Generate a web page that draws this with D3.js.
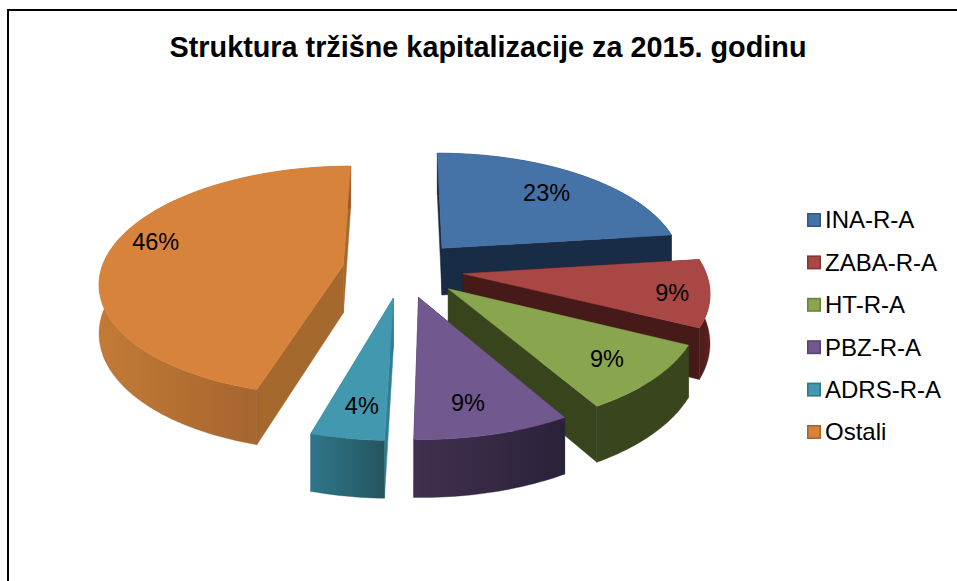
<!DOCTYPE html>
<html>
<head>
<meta charset="utf-8">
<style>
  body { margin: 0; background: #fff; }
  svg { display: block; font-family: "Liberation Sans", Arial, sans-serif; }
</style>
</head>
<body>
<svg class="chart" width="957" height="581"></svg>

<script src="https://d3js.org/d3.v7.min.js"></script>
<script>
  const title = "Struktura tržišne kapitalizacije za 2015. godinu";
  const categories = ["INA-R-A", "ZABA-R-A", "HT-R-A", "PBZ-R-A", "ADRS-R-A", "Ostali"];
  const shares = [23, 9.3, 9.3, 8.8, 4.1, 45.5];

  const topColors = ["#4572a7", "#a94745", "#89a54e", "#71588f", "#4198af", "#d8833c"];
  const wallLeft = ["#1a2f4a", "#4a1b19", "#39451c", "#413050", "#2f7689", "#c27a36"];
  const wallRight = ["#182c45", "#5e211e", "#39451c", "#2a2239", "#24555f", "#95592a"];
  const faceColors = ["#182c45", "#451a18", "#38441c", "#2d2440", "#2f7f93", "#a5692e"];

  // label spot per slice: fraction of radius, shift from the mid angle in degrees
  const labelSpots = [[0.74, 0], [0.85, 1], [0.79, 0], [0.785, 2], [0.79, -1], [0.84, 7]];

  // perspective ground plane, fitted to the corners in the picture
  const cx = 403, horizon = -550, planeDrop = 819, camera = 1730;
  const radius = 240, widen = 1.008, explode = 60, depth = 48;

  const svg = d3.select("svg.chart");
  const defs = svg.append("defs");

  function project(u, v, h) {
    const s = camera / (camera - v);
    return [cx + s * u * widen, horizon + s * (planeDrop + h)];
  }

  const line = d3.line();
  const pie = d3.pie().sort(null);
  const slices = pie(shares);

  // chart frame, open at right and bottom like the crop
  svg.append("path")
    .attr("d", "M8,581V10H957")
    .attr("fill", "none")
    .attr("stroke", "#000")
    .attr("stroke-width", 2);

  svg.append("text")
    .attr("x", 488)
    .attr("y", 57)
    .attr("text-anchor", "middle")
    .attr("font-size", 28.8)
    .attr("font-weight", "bold")
    .text(title);

  function ringPoint(d, angle, r) {
    const mid = (d.startAngle + d.endAngle) / 2;
    return [
      explode * Math.sin(mid) + r * Math.sin(angle),
      -explode * Math.cos(mid) - r * Math.cos(angle)
    ];
  }

  function rim(d) {
    const steps = Math.ceil((d.endAngle - d.startAngle) / 0.02);
    return d3.range(steps + 1).map(i =>
      ringPoint(d, d.startAngle + (d.endAngle - d.startAngle) * i / steps, radius));
  }

  const pies = svg.append("g").selectAll("g")
    .data(slices)
    .join("g");

  pies.each(function (d, i) {
    const g = d3.select(this);
    const edge = rim(d);
    const apex = ringPoint(d, 0, 0);
    const top = p => project(p[0], p[1], 0);
    const bottom = p => project(p[0], p[1], depth);

    const gradId = "wall" + i;
    const grad = defs.append("linearGradient").attr("id", gradId);
    grad.append("stop").attr("offset", "0%").attr("stop-color", wallLeft[i]);
    grad.append("stop").attr("offset", "100%").attr("stop-color", wallRight[i]);

    // inner faces
    [edge[0], edge[edge.length - 1]].forEach(p => {
      const pts = [top(apex), top(p), bottom(p), bottom(apex)];
      g.append("path")
        .attr("d", line(pts) + "Z")
        .attr("fill", faceColors[i])
        .attr("stroke", faceColors[i])
        .attr("stroke-width", 0.5);
    });

    // outer wall
    const wall = edge.map(top).concat(edge.slice().reverse().map(bottom));
    g.append("path")
      .attr("d", line(wall) + "Z")
      .attr("fill", `url(#${gradId})`)
      .attr("stroke", wallRight[i])
      .attr("stroke-width", 0.3);

    // top surface
    const face = [top(apex)].concat(edge.map(top));
    g.append("path")
      .attr("d", line(face) + "Z")
      .attr("fill", topColors[i])
      .attr("stroke", topColors[i])
      .attr("stroke-width", 0.5);
  });

  // percent labels go above every slice
  svg.append("g").selectAll("text")
    .data(slices)
    .join("text")
    .attr("text-anchor", "middle")
    .attr("font-size", 23.5)
    .attr("dy", "0.38em")
    .attr("transform", (d, i) => {
      const mid = (d.startAngle + d.endAngle) / 2 + labelSpots[i][1] * Math.PI / 180;
      const p = ringPoint(d, mid, radius * labelSpots[i][0]);
      const [x, y] = project(p[0], p[1], 0);
      return `translate(${x},${y})`;
    })
    .text(d => Math.round(d.value) + "%");

  const legendY = d3.scalePoint().domain(categories).range([220, 432]);

  const legend = svg.append("g").selectAll("g")
    .data(categories)
    .join("g")
    .attr("transform", d => `translate(807,${legendY(d)})`);

  legend.append("rect")
    .attr("x", 0.8)
    .attr("y", -6.2)
    .attr("width", 12.4)
    .attr("height", 12.4)
    .attr("fill", (d, i) => topColors[i])
    .attr("stroke", (d, i) => d3.color(topColors[i]).darker(0.7))
    .attr("stroke-width", 1.6);

  legend.append("text")
    .attr("x", 18)
    .attr("dy", "0.35em")
    .attr("font-size", 24)
    .text(d => d);
</script>
</body>
</html>
